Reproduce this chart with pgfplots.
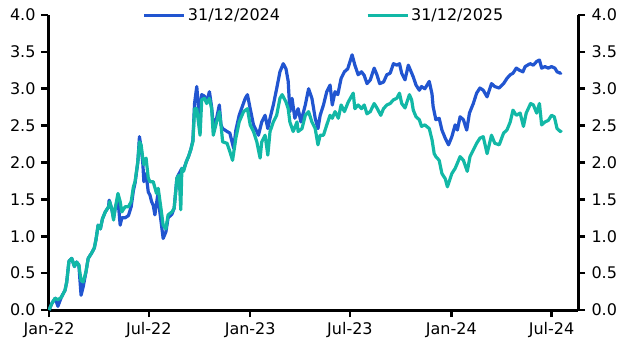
\documentclass[border=0pt]{standalone}
\usepackage{fontspec}
\setmainfont{DejaVu Sans}
\usepackage{pgfplots}
\usepackage{pgfplotstable}
\pgfplotsset{compat=1.18}
\definecolor{cblue}{HTML}{2155D0}
\definecolor{cteal}{HTML}{12B8A6}
\pgfplotstableread{
d v
0 0.00
5 0.09
11 0.16
16 0.05
22 0.17
29 0.27
32 0.38
36 0.66
41 0.70
46 0.59
50 0.65
54 0.61
58 0.20
62 0.32
67 0.52
71 0.70
77 0.77
82 0.84
85 0.95
89 1.15
93 1.10
97 1.24
102 1.33
108 1.40
109 1.49
114 1.36
117 1.25
120 1.38
125 1.50
129 1.15
132 1.25
138 1.25
144 1.28
149 1.40
153 1.62
156 1.72
161 2.00
164 2.35
167 2.20
170 2.00
172 1.74
176 1.85
180 1.60
183 1.56
186 1.47
189 1.42
192 1.29
198 1.60
201 1.33
207 0.97
212 1.06
216 1.25
223 1.30
227 1.38
232 1.79
236 1.85
241 1.92
244 1.90
249 2.01
253 2.08
257 2.17
261 2.30
264 2.80
268 3.03
273 2.60
277 2.92
282 2.90
286 2.82
291 2.96
295 2.75
298 2.51
304 2.60
309 2.78
312 2.51
315 2.46
323 2.42
328 2.40
335 2.19
339 2.44
345 2.64
356 2.87
360 2.92
365 2.73
371 2.51
377 2.42
380 2.37
386 2.55
392 2.64
397 2.46
401 2.60
407 2.78
413 3.00
419 3.23
425 3.34
430 3.27
434 3.10
437 2.69
441 2.87
446 2.60
452 2.73
457 2.55
465 2.78
471 3.00
477 2.87
483 2.60
488 2.46
492 2.64
498 2.78
504 2.96
510 3.05
514 2.78
519 2.96
524 2.92
530 3.14
536 3.23
542 3.27
550 3.46
555 3.32
561 3.19
567 3.23
572 3.18
577 3.07
583 3.12
590 3.28
595 3.19
600 3.07
607 3.09
613 3.19
619 3.21
625 3.34
631 3.32
636 3.34
640 3.21
646 3.12
652 3.32
656 3.25
661 3.16
666 3.05
672 2.98
676 3.03
682 3.00
690 3.10
695 2.93
697 2.76
702 2.58
708 2.60
713 2.44
719 2.33
725 2.24
731 2.35
737 2.51
741 2.44
746 2.62
752 2.58
758 2.44
763 2.67
770 2.80
776 2.94
782 3.01
788 2.98
795 2.89
803 3.07
809 3.03
817 3.01
825 3.07
831 3.14
837 3.19
842 3.21
848 3.28
854 3.25
860 3.23
864 3.30
873 3.34
879 3.32
885 3.37
890 3.39
894 3.28
900 3.30
906 3.28
912 3.30
918 3.28
922 3.23
928 3.21
930 3.22
}\bluedata
\pgfplotstableread{
d v
0 0.00
5 0.09
11 0.16
16 0.14
22 0.17
29 0.27
32 0.38
36 0.66
41 0.70
46 0.59
50 0.65
54 0.61
58 0.40
62 0.38
67 0.52
71 0.70
77 0.77
82 0.84
85 0.95
89 1.15
93 1.10
97 1.24
102 1.33
108 1.40
110 1.47
114 1.36
117 1.22
120 1.38
125 1.58
129 1.47
132 1.33
138 1.40
144 1.40
149 1.47
153 1.67
156 1.74
161 2.01
164 2.28
167 2.24
170 2.06
172 1.97
176 2.06
180 1.79
183 1.74
189 1.74
195 1.58
198 1.65
203 1.38
207 1.15
212 1.10
216 1.29
223 1.33
227 1.38
232 1.79
236 1.83
239 1.36
241 1.92
244 1.88
249 2.01
253 2.08
257 2.17
261 2.28
264 2.73
268 2.73
274 2.37
277 2.85
282 2.87
286 2.80
291 2.87
295 2.73
298 2.37
304 2.55
309 2.69
312 2.51
315 2.28
323 2.26
328 2.15
333 2.03
339 2.33
345 2.55
353 2.69
360 2.73
365 2.51
371 2.42
377 2.28
383 2.06
386 2.28
392 2.37
397 2.10
401 2.42
407 2.55
413 2.64
419 2.87
423 2.92
430 2.82
434 2.73
437 2.55
443 2.42
450 2.55
452 2.42
459 2.46
465 2.64
471 2.69
477 2.55
483 2.46
488 2.24
492 2.37
498 2.37
504 2.51
510 2.64
514 2.60
519 2.69
525 2.60
530 2.78
536 2.69
543 2.82
552 2.94
555 2.73
561 2.78
567 2.73
572 2.78
577 2.66
583 2.69
590 2.80
595 2.74
602 2.64
607 2.73
613 2.78
619 2.80
625 2.85
631 2.87
636 2.94
640 2.80
646 2.74
654 2.92
658 2.85
661 2.71
666 2.62
672 2.58
676 2.49
682 2.51
690 2.46
695 2.31
699 2.12
702 2.08
708 2.03
713 1.85
719 1.78
723 1.67
731 1.85
737 1.92
741 1.99
746 2.08
752 2.03
759 1.88
764 2.08
770 2.17
776 2.26
782 2.33
788 2.35
795 2.12
803 2.37
809 2.26
817 2.24
825 2.40
831 2.44
837 2.55
842 2.71
848 2.64
855 2.67
861 2.49
866 2.67
874 2.80
879 2.78
885 2.67
890 2.80
894 2.51
900 2.55
906 2.57
912 2.64
917 2.62
922 2.46
928 2.42
930 2.44
}\tealdata
\pgfplotsset{
  common/.style={
    at={(48pt,47pt)}, anchor=south west,
    scale only axis, width=530pt, height=295pt,
    xmin=-2, xmax=960, ymin=0, ymax=4,
    ytick={0,0.5,...,4},
    axis line style={-, line width=3pt, black},
    tick style={line width=2.6pt, black},
    major tick length=7pt,
    tick align=outside,
    /pgf/number format/.cd, fixed, fixed zerofill, precision=1, assume math mode=true,
    /pgfplots/.cd,
    ticklabel style={font=\fontsize{16}{16}\selectfont},
  }
}
\begin{document}
\begin{tikzpicture}
\useasboundingbox (0,0) rectangle (632pt,357pt);
\begin{axis}[common,
  axis x line*=bottom, axis y line*=left,
  xtick={0,181,365,546,730,912},
  xticklabels={Jan-22,Jul-22,Jan-23,Jul-23,Jan-24,Jul-24},
  xticklabel style={yshift=-2pt},
  yticklabel style={xshift=-2pt},
  legend style={at={(0.521,1.0)}, anchor=center, draw=none, fill=none,
    font=\fontsize{16}{16}\selectfont, legend columns=2,
    /tikz/every even column/.append style={column sep=84pt}},
  legend image code/.code={\draw[#1, line width=3pt] (0pt,0pt) -- (40pt,0pt);},
  legend cell align=left,
]
\addplot[cblue, line width=3.2pt, line join=round] table[x=d,y=v] {\bluedata};
\addlegendentry{31/12/2024}
\addplot[cteal, line width=3.2pt, line join=round] table[x=d,y=v] {\tealdata};
\addlegendentry{31/12/2025}
\end{axis}
\begin{axis}[common,
  axis x line=none, axis y line*=right,
  yticklabel style={xshift=3pt},
]
\addplot[draw=none] coordinates {(0,0)};
\end{axis}
\end{tikzpicture}
\end{document}
